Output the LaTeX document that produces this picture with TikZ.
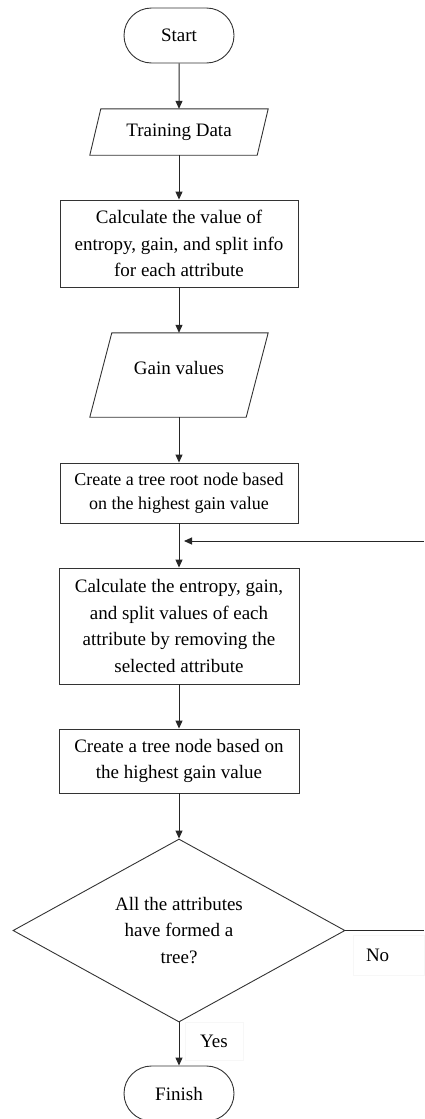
\documentclass[tikz,border=0pt]{standalone}
\usepackage{fontspec}
\setmainfont{Liberation Serif}
\usetikzlibrary{shapes.geometric,shapes.misc,arrows.meta}
\begin{document}
\begin{tikzpicture}[x=1pt,y=1pt,
  line/.style={draw=black!85,line width=1pt},
  arr/.style={line,-{Triangle[length=8pt,width=7pt]}},
  term/.style={rounded rectangle,draw=black!80,line width=0.9pt,minimum width=110pt,minimum height=55pt,inner sep=0pt,font=\fontsize{19}{26}\selectfont},
  proc/.style={rectangle,draw=black!80,line width=0.9pt,align=center,inner sep=0pt,font=\fontsize{19}{26.5}\selectfont},
  io/.style={rectangle,inner sep=0pt,font=\fontsize{19}{26}\selectfont},
  para/.style={draw=black!80,line width=0.9pt},
  dec/.style={diamond,draw=black!80,line width=0.9pt,align=center,aspect=1.8,inner sep=0pt,font=\fontsize{19}{26.5}\selectfont},
  lab/.style={draw=black!3,line width=0.5pt,inner sep=0pt,font=\fontsize{19}{24}\selectfont}
]
\useasboundingbox (0,0) rectangle (424,-1119);

% Start
\node[term] (start) at (179,-35.5) {Start};

% Training Data (parallelogram)
\node[io,minimum width=167pt,minimum height=46pt] (td) at (179,-132) {Training Data};
\draw[para] ([xshift=5.5pt]td.north west) -- ([xshift=5.5pt]td.north east)
  -- ([xshift=-5.5pt]td.south east) -- ([xshift=-5.5pt]td.south west) -- cycle;

% Box 1
\node[proc,minimum width=238pt,minimum height=87pt] (b1) at (179,-243.5)
  {Calculate the value of\\entropy, gain, and split info\\for each attribute};

% Gain values (parallelogram)
\node[io,minimum width=156pt,minimum height=84pt,text depth=14pt] (gv) at (179,-375) {Gain values};
\draw[para] ([xshift=11pt]gv.north west) -- ([xshift=11pt]gv.north east)
  -- ([xshift=-11pt]gv.south east) -- ([xshift=-11pt]gv.south west) -- cycle;

% Box 2
\node[proc,minimum width=238pt,minimum height=60pt,font=\fontsize{18}{24}\selectfont] (b2) at (179,-493)
  {Create a tree root node based\\on the highest gain value};

% Box 3
\node[proc,minimum width=240pt,minimum height=116pt] (b3) at (179,-626)
  {Calculate the entropy, gain,\\and split values of each\\attribute by removing the\\selected attribute};

% Box 4
\node[proc,minimum width=240pt,minimum height=64pt] (b4) at (179,-761)
  {Create a tree node based on\\the highest gain value};

% Decision
\node[dec,minimum width=332pt,minimum height=183pt] (d) at (179,-930.5)
  {All the attributes\\have formed a\\tree?};

% Finish
\node[term] (finish) at (179,-1093.5) {Finish};

% Labels
\node[lab,minimum width=58pt,minimum height=38pt] (yes) at (214,-1041) {Yes};
\node[lab,text width=45pt,inner xsep=13pt,minimum height=40pt,align=left] (no) at (388.5,-955) {No};

% Coordinates for the loop
\coordinate (merge) at (179,-541);
\coordinate (fb) at (424,-541);
\coordinate (noend) at (424,-930.5);

% Connectors
\draw[arr] (start) -- (td);
\draw[arr] (td) -- (b1);
\draw[arr] (b1) -- (gv);
\draw[arr] (gv) -- (b2);
\draw[arr] (b2) -- (b3);
\draw[arr] (b3) -- (b4);
\draw[arr] (b4) -- (d);
\draw[arr] (d) -- (finish);
\draw[line] (d.east) -- (noend);
\draw[arr,shorten >=5pt] (fb) -- (merge);
\end{tikzpicture}
\end{document}
